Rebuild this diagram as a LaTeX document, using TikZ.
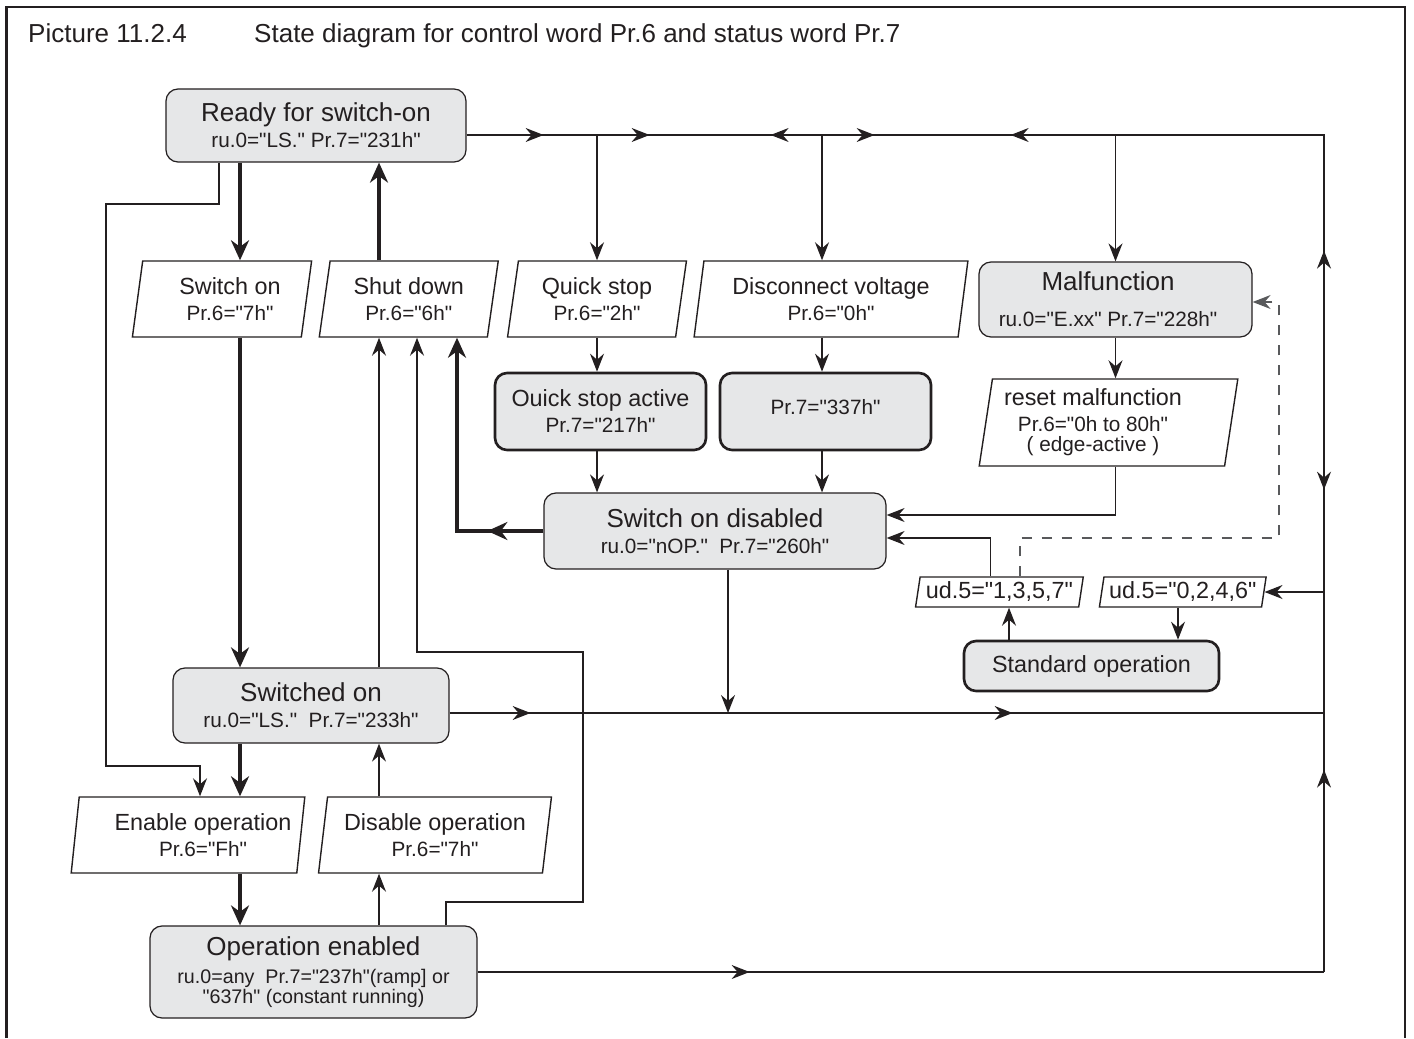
\documentclass[tikz,border=0pt]{standalone}
\usepackage{fontspec}
\setmainfont{Liberation Sans}[Ligatures=TeXOff]
\usetikzlibrary{arrows.meta, shapes.geometric, decorations.markings}
\definecolor{stfill}{HTML}{E6E7E8}
\definecolor{ink}{HTML}{231F20}
\definecolor{dashink}{HTML}{58595B}

\newcommand{\fbig}{\fontsize{14.8}{17}\selectfont}
\newcommand{\fmid}{\fontsize{13.3}{15}\selectfont}
\newcommand{\fsml}{\fontsize{11.8}{14.8}\selectfont}
\newcommand{\fope}{\fontsize{11.2}{11.4}\selectfont}

\begin{document}
\begin{tikzpicture}[x=0.2mm, y=-0.2mm,
    >={Stealth[length=3.6mm, width=2.8mm, inset=1.2mm]},
    wire/.style={draw=ink, line width=0.8pt},
    mainwire/.style={draw=ink, line width=2.2pt,
                     >={Stealth[length=4mm, width=3.6mm, inset=1.3mm]}},
    dashwire/.style={draw=dashink, line width=0.8pt, dash pattern=on 2mm off 2mm},
    midtips/.style={postaction={decorate, decoration={markings, #1}}},
    stbox/.style={draw=ink, fill=stfill, rounded corners=2.4mm, line width=0.7pt,
                  inner sep=0pt, align=center, font=\fsml, text=ink},
    stboxb/.style={stbox, line width=1.5pt},
    cmdbox/.style={trapezium, trapezium left angle=80, trapezium right angle=100,
                   trapezium stretches=true, draw=ink, fill=white, line width=0.8pt,
                   inner sep=0pt, align=center, font=\fsml, text=ink},
]
    \useasboundingbox (0,0) rectangle (1414,1038);

    % Frame and title
    \draw[ink, line width=1.5pt] (6.5,1038) -- (6.5,7) -- (1405,7) -- (1405,1038);
    \node[anchor=base west, font=\fbig, text=ink] (picno) at (22,43) {Picture 11.2.4};
    \node[anchor=base west, font=\fbig, text=ink] (title) at (248,43)
        {State diagram for control word Pr.6 and status word Pr.7};

    % States
    \node[stbox, minimum width=60mm, minimum height=14.6mm] (ready) at (316,125.5)
        {{\fbig Ready for switch-on}\\ru.0="LS." Pr.7="231h"};
    \node[stbox, minimum width=54.6mm, minimum height=15mm] (malf) at (1115.5,299.5)
        {{\fbig Malfunction}\kern3mm\\[5.7pt]ru.0="E.xx" Pr.7="228h"\kern3mm};
    \node[stboxb, minimum width=42.2mm, minimum height=15.4mm] (qsa) at (600.5,411.5)
        {{\fmid Ouick stop active}\\Pr.7="217h"};
    \node[stboxb, minimum width=42.2mm, minimum height=15.4mm] (nov) at (825.5,411.5)
        {\raisebox{2mm}{Pr.7="337h"}};
    \node[stbox, minimum width=68.4mm, minimum height=15.2mm] (sod) at (715,531)
        {{\fbig Switch on disabled}\\ru.0="nOP."\ \ Pr.7="260h"};
    \node[stboxb, minimum width=51mm, minimum height=10mm, font=\fmid] (std) at (1091.5,666)
        {Standard operation};
    \node[stbox, minimum width=55.2mm, minimum height=15mm] (swd) at (311,705.5)
        {{\fbig Switched on}\\ru.0="LS."\ \ Pr.7="233h"};
    \node[stbox, minimum width=65.4mm, minimum height=18.4mm, font=\fope] (ope) at (313.5,972)
        {{\fbig Operation enabled}\\[4.5pt]ru.0=any\ \ Pr.7="237h"(ramp] or\\"637h" (constant running)};

    % Commands
    \node[cmdbox, minimum width=36mm, minimum height=15.2mm] (swon) at (222,299)
        {\kern3.2mm{\fmid Switch on}\\\kern3.2mm Pr.6="7h"};
    \node[cmdbox, minimum width=36mm, minimum height=15.2mm] (shut) at (408.75,299)
        {{\fmid Shut down}\\Pr.6="6h"};
    \node[cmdbox, minimum width=36mm, minimum height=15.2mm] (qstop) at (597,299)
        {{\fmid Quick stop}\\Pr.6="2h"};
    \node[cmdbox, minimum width=54.8mm, minimum height=15.2mm] (disc) at (831,299)
        {{\fmid Disconnect voltage}\\Pr.6="0h"};
    \node[cmdbox, minimum width=51.8mm, minimum height=17.4mm] (reset) at (1108.5,422.5)
        {{\fmid reset malfunction}\kern6.2mm\\Pr.6="0h to 80h"\kern6.2mm\\[-3.3pt]( edge-active )\kern6.2mm};
    \node[cmdbox, trapezium left angle=78, trapezium right angle=102, minimum width=33.8mm,
          minimum height=6mm, font=\fmid] (udodd) at (999.4,592) {ud.5="1,3,5,7"};
    \node[cmdbox, trapezium left angle=78, trapezium right angle=102, minimum width=33.6mm,
          minimum height=6mm, font=\fmid] (udeven) at (1182.75,592) {ud.5="0,2,4,6"};
    \node[cmdbox, minimum width=46.8mm, minimum height=15.2mm] (enop) at (188,835)
        {\kern6mm{\fmid Enable operation}\\\kern6mm Pr.6="Fh"};
    \node[cmdbox, minimum width=46.6mm, minimum height=15.2mm] (disop) at (435,835)
        {{\fmid Disable operation}\\Pr.6="7h"};

    % Columns and bends
    \coordinate (xa) at (240,0);
    \coordinate (xb) at (379,0);
    \coordinate (xc) at (457,0);
    \coordinate (xd) at (417,0);
    \coordinate (xdc) at (822,0);
    \coordinate (xsod) at (728,0);
    \coordinate (bus) at (1324,135);
    \coordinate (yso) at (0,713);
    \coordinate (yrs) at (0,515);
    \coordinate (yud) at (1020,538);
    \coordinate (xud) at (990.5,0);
    \coordinate (dsh) at (1279,302);
    \coordinate (xso) at (1009,0);
    \coordinate (xse) at (1178,0);
    \coordinate (k1) at (219,204);
    \coordinate (k2) at (106,766);
    \coordinate (k3) at (200,0);
    \coordinate (k4) at (446,902);
    \coordinate (k5) at (583,652);

    % Main bus
    \draw[wire, midtips={mark=at position 15.4mm with {\arrow{>}},
                         mark=at position 36.6mm with {\arrow{>}},
                         mark=at position 60.8mm with {\arrowreversed{>}},
                         mark=at position 81.6mm with {\arrow{>}},
                         mark=at position 108.8mm with {\arrowreversed{>}},
                         mark=at position 194.6mm with {\arrowreversed{>}},
                         mark=at position 242.4mm with {\arrow{>}},
                         mark=at position 298.4mm with {\arrowreversed{>}}}]
        (ready.east |- bus) -- (bus) -- (ope.east -| bus);
    \draw[wire, ->] (qstop.north |- bus) -- (qstop.north);
    \draw[wire, ->] (xdc |- bus) -- (disc.north -| xdc);
    \draw[wire, ->] (malf.north |- bus) -- (malf.north);

    % Commands to states
    \draw[wire, ->] (qstop.south) -- (qsa.north -| qstop.south);
    \draw[wire, ->] (qsa.south -| qstop.south) -- (sod.north -| qstop.south);
    \draw[wire, ->] (disc.south -| xdc) -- (nov.north -| xdc);
    \draw[wire, ->] (nov.south -| xdc) -- (sod.north -| xdc);
    \draw[wire, ->] (malf.south) -- (reset.north -| malf.south);
    \draw[wire, ->] (reset.south -| malf.south) |- (sod.east |- yrs);
    \draw[wire, ->] (udodd.north -| xud) |- (sod.east |- yud);
    \draw[dashwire, ->] (udodd.north -| yud) -- (yud) -| (dsh) -- (malf.east |- dsh);
    \draw[wire, ->] (std.north -| xso) -- (udodd.south -| xso);
    \draw[wire, ->] (udeven.south -| xse) -- (std.north -| xse);
    \draw[wire, ->] (bus |- udeven.east) -- (udeven.east);

    % Returns to the bus
    \draw[wire, ->] (sod.south -| xsod) -- (xsod |- yso);
    \draw[wire, midtips={mark=at position 16.2mm with {\arrow{>}},
                         mark=at position 112.6mm with {\arrow{>}}}]
        (swd.east |- yso) -- (bus |- yso);
    \draw[wire, midtips={mark=at position 54.4mm with {\arrow{>}}}]
        (ope.east) -- (ope.east -| bus);

    % Main sequence
    \draw[mainwire, ->] (ready.south -| xa) -- (swon.north -| xa);
    \draw[mainwire, ->] (swon.south -| xa) -- (swd.north -| xa);
    \draw[mainwire, ->] (swd.south -| xa) -- (enop.north -| xa);
    \draw[mainwire, ->] (enop.south -| xa) -- (ope.north -| xa);
    \draw[mainwire, ->] (shut.north -| xb) -- (ready.south -| xb);
    \draw[mainwire, ->, midtips={mark=at position 11.2mm with {\arrow{>}}}]
        (sod.west) -| (shut.south -| xc);

    % Way back
    \draw[wire, ->] (swd.north -| xb) -- (shut.south -| xb);
    \draw[wire, ->] (ope.north -| xb) -- (disop.south -| xb);
    \draw[wire, ->] (disop.north -| xb) -- (swd.south -| xb);
    \draw[wire, ->] (ope.north -| k4) -- (k4) -| (k5) -| (shut.south -| xd);
    \draw[wire, ->] (ready.south -| k1) -- (k1) -| (k2) -| (enop.north -| k3);
\end{tikzpicture}
\end{document}
